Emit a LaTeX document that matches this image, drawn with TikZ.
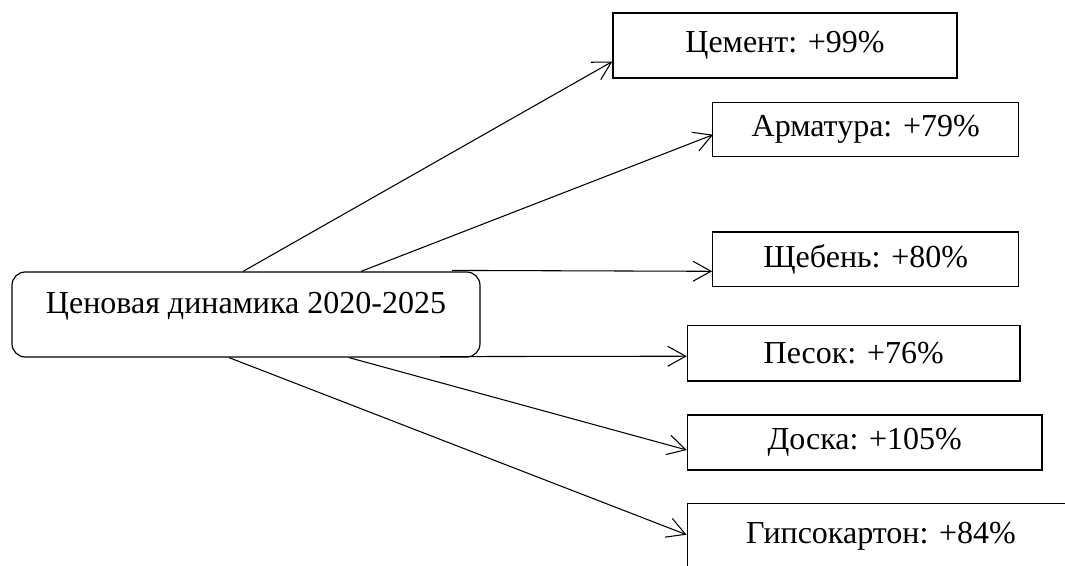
\documentclass[tikz,border=0pt]{standalone}
\usepackage{fontspec}
\setmainfont{Liberation Serif}
\usetikzlibrary{arrows.meta,calc}
\begin{document}
\begin{tikzpicture}[x=0.75pt,y=-0.75pt,
  box/.style={draw,line width=0.9pt,inner sep=0pt,font=\fontsize{24}{28}\selectfont},
  central/.style={box,rounded corners=10pt},
  link/.style={line width=0.8pt,-{Straight Barb[length=13.5pt,width=15pt,line width=0.8pt]}}]
\useasboundingbox (0,0) rectangle (1065,565);
\clip (0,0) rectangle (1065,565);
\fill[white] (0,0) rectangle (1065,565);
\node[central,minimum width=351pt,minimum height=63.75pt,text height=15pt,text depth=17pt] (c) at (246,314.5) {Ценовая динамика 2020-2025};
\node[box,minimum width=258pt,minimum height=48.75pt] (cem) at (785,45.5) {Цемент: +99\%};
\node[box,minimum width=229.5pt,minimum height=40.5pt] (arm) at (865.7,129.7) {Арматура: +79\%};
\node[box,minimum width=229.5pt,minimum height=41pt] (sch) at (865.7,259.3) {Щебень: +80\%};
\node[box,minimum width=249.5pt,minimum height=41.8pt] (pes) at (853.7,353.2) {Песок: +76\%};
\node[box,minimum width=266pt,minimum height=41.25pt] (dos) at (864.7,442.5) {Доска: +105\%};
\node[box,minimum width=290.8pt,minimum height=50pt] (gip) at (881,536.7) {Гипсокартон: +84\%};
\draw[link] ($(c.north)+(-3,0)$) -- ($(cem.west)+(0,16)$);
\draw[link] ($(c.north)+(115,0)$) -- ($(arm.west)+(1,5)$);
\draw[link] ($(c.north)+(206,-1)$) -- ($(sch.west)+(0,12)$);
\draw[link] ($(c.south)+(194,-1)$) -- ($(pes.west)+(0,3)$);
\draw[link] ($(c.south)+(103,0)$) -- ($(dos.west)+(0,7.5)$);
\draw[link] ($(c.south)+(-17,0)$) -- ($(gip.west)+(0,-2)$);
\end{tikzpicture}
\end{document}
